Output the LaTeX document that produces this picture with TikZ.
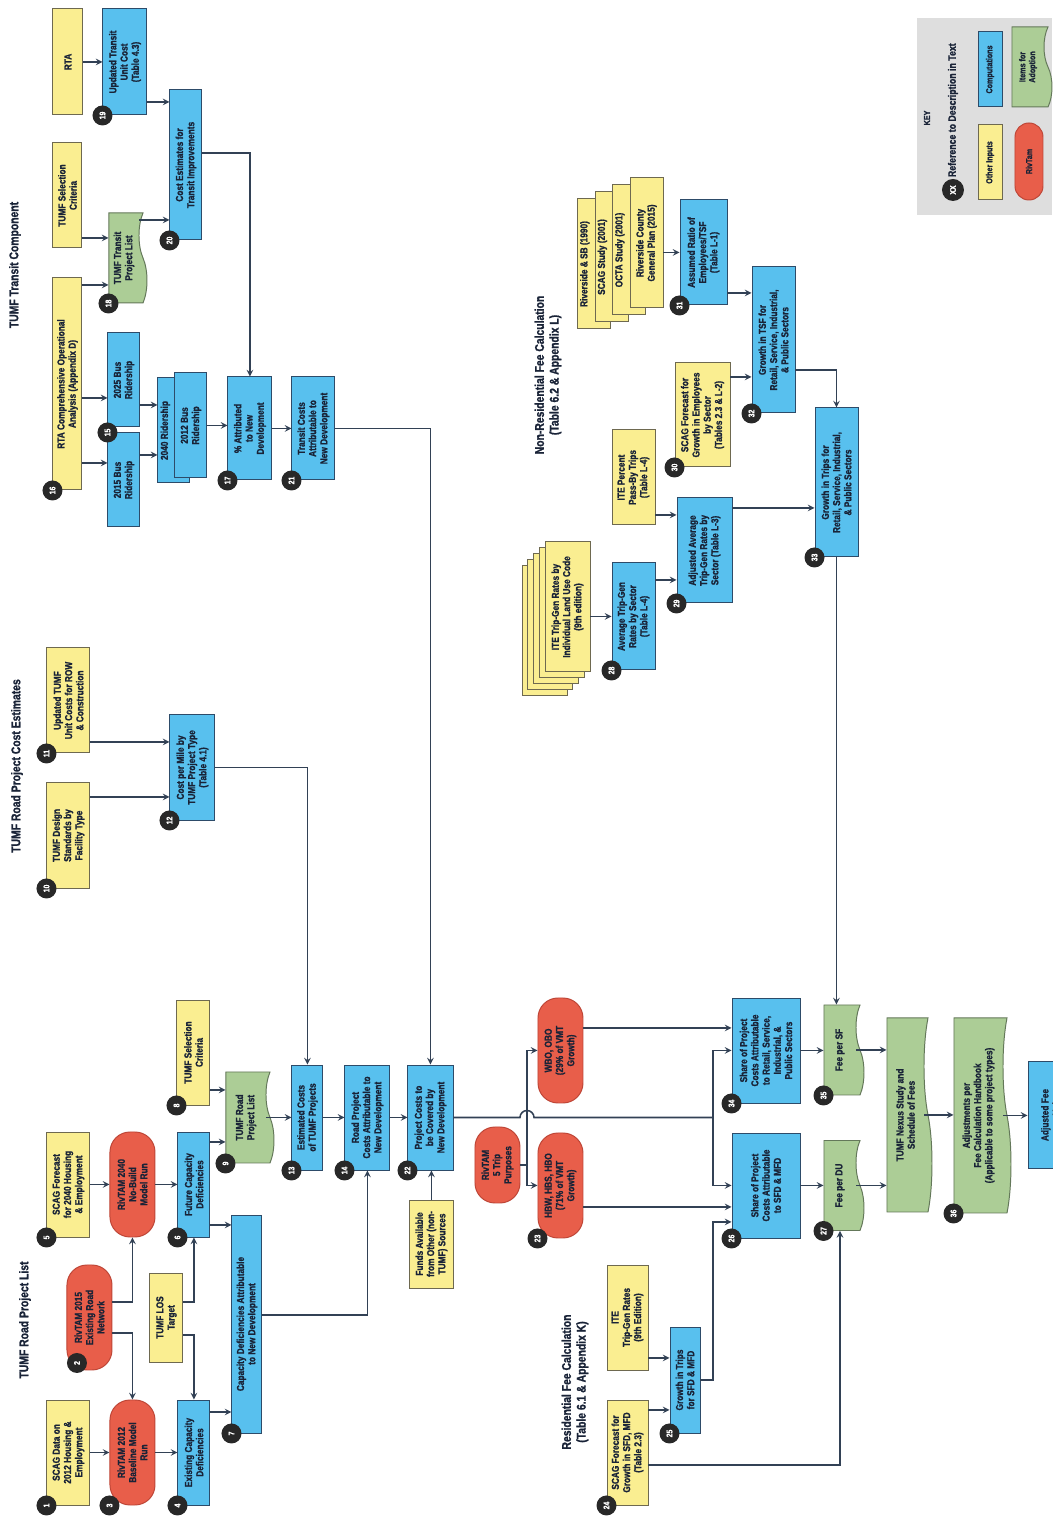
\documentclass[tikz,border=0pt]{standalone}
\usepackage{fontspec}
\usetikzlibrary{shapes.symbols}
\newfontfamily\narrowsans{Liberation Sans}[FakeStretch=0.82, FakeBold=1.2, UprightFont={* Bold}, BoldFont={* Bold}]
\newcommand{\boxfont}{\narrowsans\fontsize{7.2}{8}\selectfont}
\newcommand{\headfont}{\narrowsans\fontsize{9}{10.5}\selectfont}
\newcommand{\keyfont}{\narrowsans\fontsize{6.2}{7}\selectfont}
\newcommand{\badgefont}{\narrowsans\fontsize{6}{6}\selectfont}
\definecolor{inyellow}{RGB}{250,238,145}
\definecolor{inborder}{RGB}{110,105,80}
\definecolor{compblue}{RGB}{88,192,238}
\definecolor{compborder}{RGB}{45,75,105}
\definecolor{rivred}{RGB}{232,94,74}
\definecolor{rivborder}{RGB}{190,70,55}
\definecolor{adoptgreen}{RGB}{172,205,150}
\definecolor{adoptborder}{RGB}{100,120,90}
\definecolor{badgegray}{RGB}{40,40,40}
\definecolor{linecol}{RGB}{50,65,85}
\definecolor{textdark}{RGB}{25,35,55}
\definecolor{keygray}{RGB}{222,222,222}

\begin{document}
\begin{tikzpicture}[
  x = 0.25mm, y = 0.25mm,
  rotate = 90, transform shape,
  inbox/.style={draw=inborder, fill=inyellow, rectangle, align=center, font=\boxfont, text=textdark, inner sep=1pt, line width=0.7pt, minimum width=26.25mm, minimum height=10.75mm},
  compbox/.style={draw=compborder, fill=compblue, rectangle, align=center, font=\boxfont, text=textdark, inner sep=1pt, line width=0.7pt, minimum width=26.25mm, minimum height=8mm},
  rivbox/.style={draw=rivborder, fill=rivred, rectangle, rounded corners=5mm, align=center, font=\boxfont, text=textdark, inner sep=1pt, line width=0.7pt, minimum width=26.25mm, minimum height=11.25mm},
  adoptbox/.style={draw=adoptborder, fill=adoptgreen, tape, tape bend top=none, tape bend height=2mm, align=center, font=\boxfont, text=textdark, inner sep=1pt, line width=0.7pt, minimum width=22.5mm, minimum height=10mm},
  itelayer/.style={inbox, minimum width=32.5mm, minimum height=11.25mm},
  srclayer/.style={inbox, minimum width=32.5mm, minimum height=8.25mm},
  boxlabel/.style={anchor=north, font=\boxfont, text=textdark, inner sep=2pt},
  badge/.style={circle, fill=badgegray, text=white, font=\badgefont, inner sep=0pt, minimum size=5mm},
  head/.style={font=\headfont, text=textdark, align=center},
  keytext/.style={font=\keyfont, text=textdark},
  wire/.style={line width=1.1pt, color=linecol},
  arrow/.style={->, >=stealth, line width=1.1pt, color=linecol}
]
    \fill[white] (0,0) rectangle (1522,1052);
    \useasboundingbox (0,0) rectangle (1522,1052);

    % TUMF Road Project List
    \node (troadlist) at (202, 1027) [head] {TUMF Road Project List};
    \node (n1) at (69.5, 983.5) [inbox] {SCAG Data on\\2012 Housing \&\\Employment};
    \node (n2) at (204.5, 962.5) [rivbox] {RivTAM 2015\\Existing Road\\Network};
    \node (n5) at (337.5, 983.5) [inbox] {SCAG Forecast\\for 2040 Housing\\\& Employment};
    \node (n3) at (69.5, 919.5) [rivbox] {RivTAM 2012\\Baseline Model\\Run};
    \node (rt2040) at (337.5, 919.5) [rivbox] {RivTAM 2040\\No-Build\\Model Run};
    \node (los) at (204.5, 885.5) [inbox, minimum width=22.25mm, minimum height=8.25mm] {TUMF LOS\\Target};
    \node (n4) at (69.5, 858) [compbox] {Existing Capacity\\Deficiencies};
    \node (n6) at (337.5, 858) [compbox] {Future Capacity\\Deficiencies};
    \node (n7) at (198, 805) [compbox, minimum width=54.5mm, minimum height=7.5mm] {Capacity Deficiencies Attributable\\to New Development};
    \node (n8) at (469.5, 858.5) [inbox, minimum height=8.25mm] {TUMF Selection\\Criteria};
    \node (n9) at (404.5, 806) [adoptbox, minimum width=22.75mm, minimum height=12mm] {TUMF Road\\Project List};
    \node (n13) at (404.5, 744.5) [compbox, minimum height=7.75mm] {Estimated Costs\\of TUMF Projects};
    \node (n14) at (404.5, 684.5) [compbox, minimum height=11.25mm] {Road Project\\Costs Attributable to\\New Development};
    \node (n22) at (404.5, 621.5) [compbox, minimum height=11.25mm] {Project Costs to\\be Covered by\\New Development};
    \node (funds) at (278, 620.5) [inbox, minimum width=22mm] {Funds Available\\from Other (non-\\TUMF) Sources};

    % TUMF Road Project Cost Estimates
    \node (troadcost) at (756, 1035) [head] {TUMF Road Project Cost Estimates};
    \node (n10) at (686.5, 983.5) [inbox] {TUMF Design\\Standards by\\Facility Type};
    \node (n11) at (821.5, 983.5) [inbox] {Updated TUMF\\Unit Costs for ROW\\\& Construction};
    \node (n12) at (754.5, 859.5) [compbox, minimum height=11.25mm] {Cost per Mile by\\TUMF Project Type\\(Table 4.1)};

    % TUMF Transit Component
    \node (ttransit) at (1257, 1037) [head] {TUMF Transit Component};
    \node (n16) at (1138, 984.5) [inbox, minimum width=53mm, minimum height=7.25mm] {RTA Comprehensive Operational\\Analysis (Appendix D)};
    \node (tsel) at (1326.5, 984.5) [inbox, minimum height=7.25mm] {TUMF Selection\\Criteria};
    \node (rta) at (1460, 984) [inbox, minimum width=26.5mm, minimum height=7.5mm] {RTA};
    \node (bus2025) at (1142, 928) [compbox, minimum width=23.5mm] {2025 Bus\\Ridership};
    \node (bus2015) at (1042, 928) [compbox, minimum width=23.5mm] {2015 Bus\\Ridership};
    \node (n18) at (1264, 928) [adoptbox, minimum height=9.5mm] {TUMF Transit\\Project List};
    \node (n19) at (1460, 927) [compbox, minimum width=26.5mm, minimum height=11mm] {Updated Transit\\Unit Cost\\(Table 4.3)};
    \node (ride2040) at (1091.5, 878) [compbox, label={[boxlabel]north:2040 Ridership}] {};
    \node (ride2012) at (1096.5, 861) [compbox] {2012 Bus\\Ridership};
    \node (n20) at (1357, 866) [compbox, minimum width=37.5mm] {Cost Estimates for\\Transit Improvements};
    \node (n17) at (1093.5, 802) [compbox, minimum width=25.75mm, minimum height=11mm] {\% Attributed\\to New\\Development};
    \node (n21) at (1093.5, 738.5) [compbox, minimum width=25.75mm, minimum height=10.75mm] {Transit Costs\\Attributable to\\New Development};

    % Fee split
    \node (rt5) at (357, 554.5) [rivbox, minimum width=19mm] {RivTAM\\5 Trip\\Purposes};
    \node (wbo) at (471.5, 491.5) [rivbox] {WBO, OBO\\(29\% of VMT\\Growth)};
    \node (hbw) at (336.5, 491.5) [rivbox] {HBW, HBS, HBO\\(71\% of VMT\\Growth)};
    \node (n34) at (471.5, 286) [compbox, minimum height=17mm] {Share of Project\\Costs Attributable\\to Retail, Service,\\Industrial, \&\\Public Sectors};
    \node (n26) at (336.5, 286) [compbox, minimum height=17mm] {Share of Project\\Costs Attributable\\to SFD \& MFD};
    \node (n35) at (472, 212) [adoptbox] {Fee per SF};
    \node (n27) at (336.5, 212) [adoptbox] {Fee per DU};
    \node (nexus) at (407, 146.5) [adoptbox, minimum width=48.5mm, minimum height=11.25mm] {TUMF Nexus Study and\\Schedule of Fees};
    \node (n36) at (406.5, 73.5) [adoptbox, minimum width=48.75mm, minimum height=14.25mm] {Adjustments per\\Fee Calculation Handbook\\(Applicable to some project types)};
    \node (adjfee) at (407, 0.5) [compbox, minimum width=26.75mm, minimum height=11.75mm] {Adjusted Fee\\per Unit};

    % Residential Fee Calculation
    \node (tres) at (140, 477) [head] {Residential Fee Calculation\\(Table 6.1 \& Appendix K)};
    \node (ite9) at (204.5, 424.5) [inbox, minimum height=10.25mm] {ITE\\Trip-Gen Rates\\(9th Edition)};
    \node (n24) at (69.5, 424.5) [inbox, minimum height=10.25mm] {SCAG Forecast for\\Growth in SFD, MFD\\(Table 2.3)};
    \node (n25) at (142, 367) [compbox, minimum width=26.5mm, minimum height=7.5mm] {Growth in Trips\\for SFD \& MFD};

    % Non-Residential Fee Calculation
    \node (tnonres) at (1147, 504) [head] {Non-Residential Fee Calculation\\(Table 6.2 \& Appendix L)};
    \node (ite4) at (891, 507.5) [itelayer] {};
    \node (ite3) at (897, 501.75) [itelayer] {};
    \node (ite2) at (903, 496) [itelayer] {};
    \node (ite1) at (909, 490.25) [itelayer] {};
    \node (ite0) at (915, 484.5) [itelayer] {ITE Trip-Gen Rates by\\Individual Land Use Code\\(9th edition)};
    \node (n28) at (905.5, 418.5) [compbox, minimum width=26.75mm, minimum height=10.75mm] {Average Trip-Gen\\Rates by Sector\\(Table L-4)};
    \node (pass) at (1044.5, 418.5) [inbox, minimum width=23.75mm] {ITE Percent\\Pass-By Trips\\(Table L-4)};
    \node (n29) at (971.5, 347.5) [compbox, minimum height=13.75mm] {Adjusted Average\\Trip-Gen Rates by\\Sector (Table L-3)};
    \node (n30) at (1107, 349.5) [inbox, minimum width=26mm, minimum height=13.75mm] {SCAG Forecast for\\Growth in Employees\\by Sector\\(Tables 2.3 \& L-2)};
    \node (src1) at (1258, 458) [srclayer, label={[boxlabel]north:Riverside \& SB (1990)}] {};
    \node (src2) at (1265, 440.5) [srclayer, label={[boxlabel]north:SCAG Study (2001)}] {};
    \node (src3) at (1272, 423) [srclayer, label={[boxlabel]north:OCTA Study (2001)}] {};
    \node (src4) at (1279, 405.5) [srclayer] {Riverside County\\General Plan (2015)};
    \node (n31) at (1269.5, 348.5) [compbox, minimum height=11.75mm] {Assumed Ratio of\\Employees/TSF\\(Table L-1)};
    \node (n32) at (1182, 278.5) [compbox, minimum width=36.5mm, minimum height=10.75mm] {Growth in TSF for\\Retail, Service, Industrial,\\\& Public Sectors};
    \node (n33) at (1039.5, 215.5) [compbox, minimum width=37.25mm, minimum height=10.75mm] {Growth in Trips for\\Retail, Service, Industrial,\\\& Public Sectors};

    % Key
    \node (keybg) at (1405.5, 67.5) [fill=keygray, minimum width=49.25mm, minimum height=33.75mm] {};
    \node (keytitle) at (1404, 125) [keytext] {KEY};
    \node (bxx) at (1332, 99) [badge, minimum size=5.5mm] {XX};
    \node (keyref) at (bxx.east) [keytext, anchor=west, inner sep=1pt, font=\narrowsans\fontsize{7.6}{8}\selectfont] {Reference to Description in Text};
    \node (keyin) at (1359.5, 62) [inbox, font=\keyfont, minimum width=18.75mm, minimum height=6mm] {Other Inputs};
    \node (keycomp) at (1452.5, 62) [compbox, font=\keyfont, minimum width=18.75mm, minimum height=6mm] {Computations};
    \node (keyriv) at (1360.5, 23) [rivbox, font=\keyfont, minimum width=19.25mm, minimum height=7mm, rounded corners=3.5mm] {RivTam};
    \node (keyadopt) at (1455, 24) [adoptbox, font=\keyfont, minimum width=20mm, minimum height=10mm] {Items for\\Adoption};

    % Arrows: road project list
    \draw[arrow] (n1.south) -- (n3.north);
    \draw[arrow] (n5.south) -- (rt2040.north);
    \draw[arrow] (n2.south -| 189,0) |- (n3.east);
    \draw[arrow] (n2.south -| 220,0) |- (rt2040.west);
    \draw[arrow] (n3.south) -- (n4.north);
    \draw[arrow] (rt2040.south) -- (n6.north);
    \draw[arrow] (los.south -| 187,0) |- (n4.east);
    \draw[arrow] (los.south -| 220,0) |- (n6.west);
    \draw[arrow] (n4.south -| 110,0) -- (n7.north -| 110,0);
    \draw[arrow] (n6.south -| 297,0) -- (n7.north -| 297,0);
    \draw[arrow] (n6.south -| 380,0) -- (n9.north -| 380,0);
    \draw[arrow] (n8.south -| 432,0) -- (n9.north -| 432,0);
    \draw[arrow] (n9.south) -- (n13.north);
    \draw[arrow] (n13.south) -- (n14.north);
    \draw[arrow] (n7.south -| 207,0) |- (n14.west);
    \draw[arrow] (n14.south) -- (n22.north);
    \draw[arrow] (funds.east) -- (funds.east -| n22.west);

    % Arrows: cost estimates
    \draw[arrow] (n11.south -| 780,0) -- (n12.north -| 780,0);
    \draw[arrow] (n10.south -| 725,0) -- (n12.north -| 725,0);
    \draw[arrow] (n12.south) |- (n13.east);

    % Arrows: transit
    \draw[arrow] (rta.south) -- (n19.north);
    \draw[arrow] (n19.south -| 1420,0) -- (n20.north -| 1420,0);
    \draw[arrow] (tsel.south -| 1284,0) -- (n18.north -| 1284,0);
    \draw[arrow] (n18.south -| 1302,0) -- (n20.north -| 1302,0);
    \draw[arrow] (n16.south -| 1237,0) -- (n18.north -| 1237,0);
    \draw[arrow] (n16.south -| 1124,0) -- (bus2025.north -| 1124,0);
    \draw[arrow] (n16.south -| 1059,0) -- (bus2015.north -| 1059,0);
    \draw[arrow] (bus2025.south -| 1117,0) -- (ride2040.north -| 1117,0);
    \draw[arrow] (bus2015.south -| 1067,0) -- (ride2040.north -| 1067,0);
    \draw[arrow] (ride2012.south) -- (ride2012.south |- n17.north);
    \draw[arrow] (n20.south -| 1369,0) |- (n17.east);
    \draw[arrow] (n17.south) -- (n21.north);
    \draw[arrow] (n21.south) |- (n22.east);

    % Arrows: fees
    \draw[wire] (n22.south) -- (404.5,532) arc (90:-90:7) -- (404.5,339) coordinate (mainsplit);
    \draw[arrow] (mainsplit) -| (n34.north);
    \draw[arrow] (mainsplit) -| (n26.north);
    \draw[wire] (rt5.south) -- (357,525) coordinate (tripsplit);
    \draw[arrow] (tripsplit) -| (wbo.north);
    \draw[arrow] (tripsplit) -| (hbw.north);
    \draw[arrow] (wbo.south -| 494,0) -- (n34.north -| 494,0);
    \draw[arrow] (hbw.south -| 315,0) -- (n26.north -| 315,0);
    \draw[arrow] (ite9.south -| 164,0) -- (n25.north -| 164,0);
    \draw[arrow] (n24.south -| 112,0) -- (n25.north -| 112,0);
    \draw[arrow] (n25.south) |- (300,339) -- (n26.north -| 300,0);
    \draw[arrow] (n24.south -| 57,0) |- (n27.west);
    \draw[arrow] (n34.south) -- (n34.south |- n35.north);
    \draw[arrow] (n26.south) -- (n26.south |- n27.north);
    \draw[arrow] (n35.south) -- (n35.south |- nexus.north);
    \draw[arrow] (n27.south) -- (n27.south |- nexus.north);
    \draw[arrow] (nexus.south) -- (nexus.south |- n36.north);
    \draw[arrow] (n36.south) -- (n36.south |- adjfee.north);
    \draw[arrow] (n33.west) -- (n33.west -| n35.east);

    % Arrows: non-residential
    \draw[arrow] (ite0.south -| n28.north) -- (n28.north);
    \draw[arrow] (n28.south -| 942,0) -- (n29.north -| 942,0);
    \draw[arrow] (pass.south -| 1007,0) -- (n29.north -| 1007,0);
    \draw[arrow] (n29.south -| 1014,0) -- (n33.north -| 1014,0);
    \draw[arrow] (src4.south -| n31.north) -- (n31.north);
    \draw[arrow] (n31.south -| 1229,0) -- (n32.north -| 1229,0);
    \draw[arrow] (n30.south -| 1145,0) -- (n32.north -| 1145,0);
    \draw[arrow] (n32.south -| 1152,0) |- (n33.east);

    % Reference numbers
    \node (b1) at (n1.north west) [badge] {1};
    \node (b2) at (159, 975) [badge] {2};
    \node (b3) at (n3.north west) [badge] {3};
    \node (b4) at (n4.north west) [badge] {4};
    \node (b5) at (n5.north west) [badge] {5};
    \node (b6) at (n6.north west) [badge] {6};
    \node (b7) at (n7.north west) [badge] {7};
    \node (b8) at (n8.north west) [badge] {8};
    \node (b9) at (n9.north west) [badge] {9};
    \node (b10) at (n10.north west) [badge] {10};
    \node (b11) at (n11.north west) [badge] {11};
    \node (b12) at (n12.north west) [badge] {12};
    \node (b13) at (n13.north west) [badge] {13};
    \node (b14) at (n14.north west) [badge] {14};
    \node (b15) at (bus2015.north east) [badge] {15};
    \node (b16) at (n16.north west) [badge] {16};
    \node (b17) at (n17.north west) [badge] {17};
    \node (b18) at (n18.north west) [badge] {18};
    \node (b19) at (n19.north west) [badge] {19};
    \node (b20) at (n20.north west) [badge] {20};
    \node (b21) at (n21.north west) [badge] {21};
    \node (b22) at (n22.north west) [badge] {22};
    \node (b23) at (hbw.north west) [badge] {23};
    \node (b24) at (n24.north west) [badge] {24};
    \node (b25) at (n25.north west) [badge] {25};
    \node (b26) at (n26.north west) [badge] {26};
    \node (b27) at (n27.north west) [badge] {27};
    \node (b28) at (n28.north west) [badge] {28};
    \node (b29) at (n29.north west) [badge] {29};
    \node (b30) at (n30.north west) [badge] {30};
    \node (b31) at (n31.north west) [badge] {31};
    \node (b32) at (n32.north west) [badge] {32};
    \node (b33) at (n33.north west) [badge] {33};
    \node (b34) at (n34.north west) [badge] {34};
    \node (b35) at (n35.north west) [badge] {35};
    \node (b36) at (n36.north west) [badge] {36};
\end{tikzpicture}
\end{document}
